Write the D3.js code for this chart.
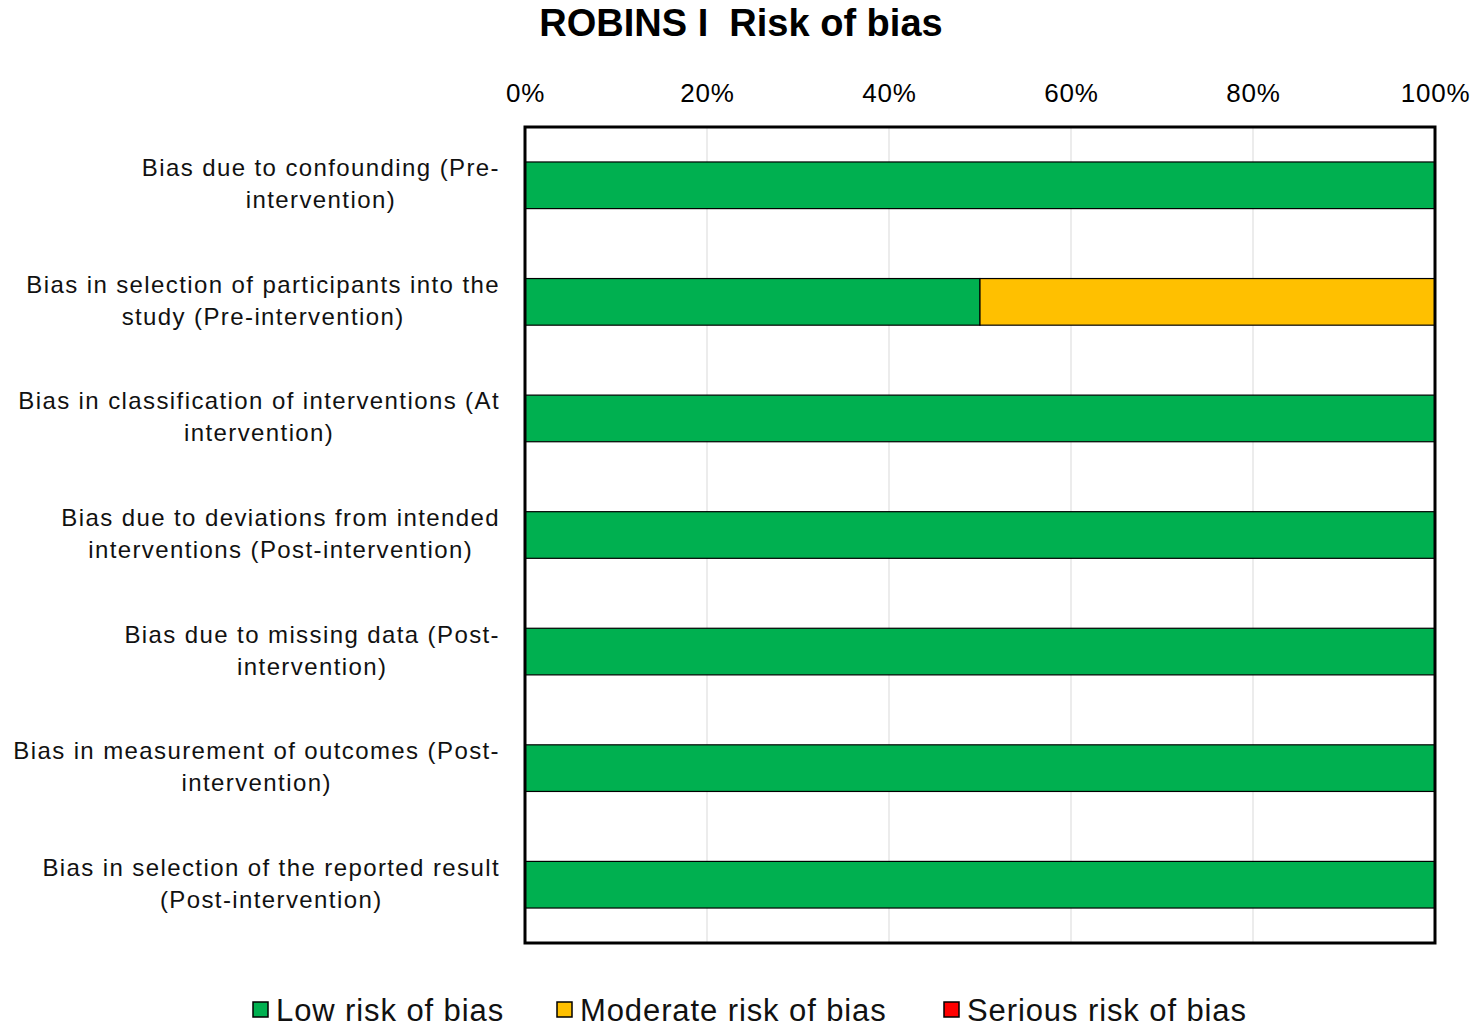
<!DOCTYPE html>
<html>
<head>
<meta charset="utf-8">
<script src="https://cdn.jsdelivr.net/npm/d3@7"></script>
<style>
  body { margin: 0; background: #fff; }
  svg { font-family: Arial, "Liberation Sans", sans-serif; }
</style>
</head>
<body>
<svg id="chart" width="1476" height="1027"></svg>
<script>
// ── Data ──────────────────────────────────────────────────────────────────────
const domains = [
  ["Bias due to confounding (Pre-", "intervention)"],
  ["Bias in selection of participants into the", "study (Pre-intervention)"],
  ["Bias in classification of interventions (At", "intervention)"],
  ["Bias due to deviations from intended", "interventions (Post-intervention)"],
  ["Bias due to missing data (Post-", "intervention)"],
  ["Bias in measurement of outcomes (Post-", "intervention)"],
  ["Bias in selection of the reported result", "(Post-intervention)"]
];
const lowRisk      = [100, 50, 100, 100, 100, 100, 100];
const moderateRisk = [0, 50, 0, 0, 0, 0, 0];
const seriousRisk  = [0, 0, 0, 0, 0, 0, 0];
const seriesNames  = ["Low risk of bias", "Moderate risk of bias", "Serious risk of bias"];
const seriesColors = ["#00b050", "#ffc000", "#ff0000"];
const xTicks       = [0, 20, 40, 60, 80, 100];

// ── Layout ────────────────────────────────────────────────────────────────────
const svg = d3.select('#chart');
const plot = { left: 525, right: 1435, top: 127, bottom: 943 };

const x = d3.scaleLinear().domain([0, 100]).range([plot.left, plot.right]);
const y = d3.scaleBand()
  .domain(d3.range(domains.length))
  .range([plot.top, plot.bottom])
  .paddingInner(0.6).paddingOuter(0.3);

// title (keeps the double space)
svg.append('text')
  .attr('x', 741).attr('y', 36)
  .attr('text-anchor', 'middle')
  .attr('font-size', 38).attr('font-weight', 'bold')
  .style('white-space', 'pre')
  .text('ROBINS I  Risk of bias');

// gridlines
svg.append('g')
  .selectAll('line')
  .data(xTicks.slice(1, -1))
  .join('line')
  .attr('x1', d => x(d)).attr('x2', d => x(d))
  .attr('y1', plot.top).attr('y2', plot.bottom)
  .attr('stroke', '#d9d9d9').attr('stroke-width', 1);

// top axis
const axis = svg.append('g')
  .attr('transform', `translate(0,${plot.top})`)
  .call(d3.axisTop(x).tickValues(xTicks).tickFormat(d => d + '%').tickSize(0).tickPadding(25));
axis.select('.domain').remove();
axis.selectAll('text')
  .attr('font-size', 26).attr('fill', '#000').attr('letter-spacing', 0.8)
  .attr('font-family', 'Arial, "Liberation Sans", sans-serif');

// stacked bars
const rows = domains.map((d, i) => ({ i, low: lowRisk[i], moderate: moderateRisk[i], serious: seriousRisk[i] }));
const stacked = d3.stack().keys(['low', 'moderate', 'serious'])(rows);

svg.append('g')
  .selectAll('g')
  .data(stacked)
  .join('g')
  .attr('fill', (d, k) => seriesColors[k])
  .selectAll('rect')
  .data(d => d.filter(s => s[1] - s[0] > 0))
  .join('rect')
  .attr('x', s => x(s[0]))
  .attr('width', s => x(s[1]) - x(s[0]))
  .attr('y', s => y(s.data.i))
  .attr('height', y.bandwidth())
  .attr('stroke', '#000').attr('stroke-width', 1.2);

// plot border
svg.append('rect')
  .attr('x', plot.left).attr('y', plot.top)
  .attr('width', plot.right - plot.left).attr('height', plot.bottom - plot.top)
  .attr('fill', 'none').attr('stroke', '#000').attr('stroke-width', 3);

// category labels (wrapped, lines centred, block right-aligned)
const labelRight = 500;
const labels = svg.append('g');
domains.forEach((lines, i) => {
  const cy = y(i) + y.bandwidth() / 2;
  const t = labels.append('text')
    .attr('font-size', 24).attr('text-anchor', 'middle').attr('fill', '#111')
    .attr('letter-spacing', 1.4);
  lines.forEach((ln, j) => {
    t.append('tspan').attr('y', cy - 9 + j * 32).text(ln);
  });
  const w = d3.max(t.selectAll('tspan').nodes(), n => n.getComputedTextLength());
  t.selectAll('tspan').attr('x', labelRight - w / 2);
});

// legend
const legendX = [253, 557, 944];
const legend = svg.append('g');
seriesNames.forEach((name, k) => {
  const g = legend.append('g').attr('transform', `translate(${legendX[k]},1010)`);
  g.append('rect')
    .attr('x', 0).attr('y', -8).attr('width', 15).attr('height', 15)
    .attr('fill', seriesColors[k]).attr('stroke', '#000').attr('stroke-width', 1.5);
  g.append('text')
    .attr('x', 23).attr('y', 11)
    .attr('font-size', 31).attr('fill', '#111').attr('letter-spacing', 0.9)
    .text(name);
});
</script>
</body>
</html>
